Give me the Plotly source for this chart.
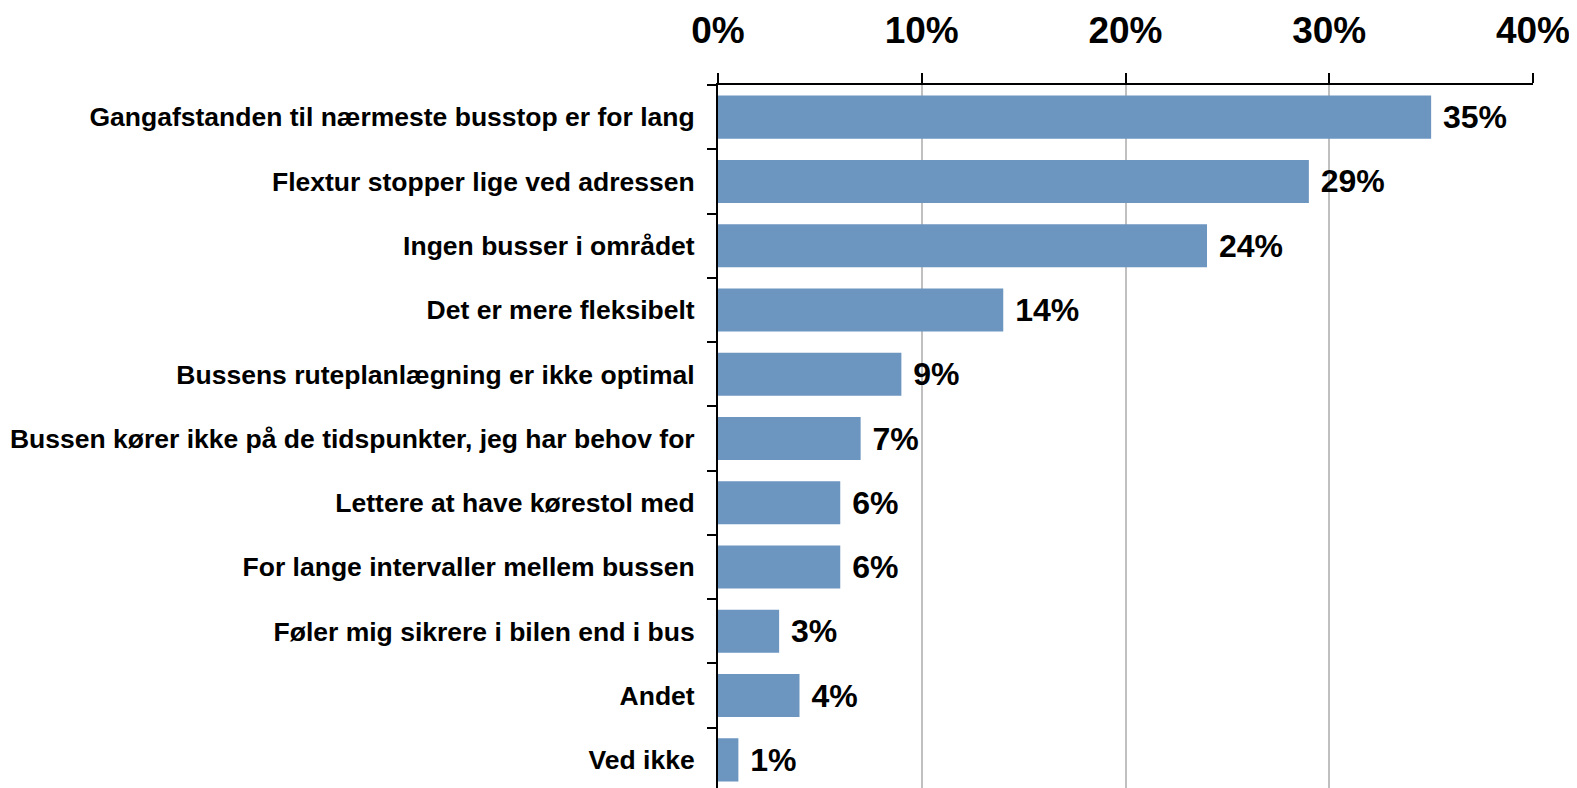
import plotly.graph_objects as go

categories = [
    "Gangafstanden til nærmeste busstop er for lang",
    "Flextur stopper lige ved adressen",
    "Ingen busser i området",
    "Det er mere fleksibelt",
    "Bussens ruteplanlægning er ikke optimal",
    "Bussen kører ikke på de tidspunkter, jeg har behov for",
    "Lettere at have kørestol med",
    "For lange intervaller mellem bussen",
    "Føler mig sikrere i bilen end i bus",
    "Andet",
    "Ved ikke",
]
values = [35, 29, 24, 14, 9, 7, 6, 6, 3, 4, 1]
tick_vals = [0, 10, 20, 30, 40]
tick_text = ["0%", "10%", "20%", "30%", "40%"]

fig = go.Figure(go.Bar(
    y=categories,
    x=values,
    orientation="h",
    marker=dict(color="#6C95C0", line=dict(width=0)),
    texttemplate=" %{x}%",
    textposition="outside",
    textfont=dict(family="Liberation Sans, Arial", size=32, color="black", weight="bold"),
    cliponaxis=False,
))

fig.update_layout(
    width=1577, height=788,
    margin=dict(l=710, r=52, t=77, b=4, autoexpand=False),
    plot_bgcolor="white", paper_bgcolor="white",
    bargap=0.33,
    showlegend=False,
    font=dict(family="Liberation Sans, Arial", color="black"),
)
fig.update_xaxes(
    side="top",
    range=[0, 40],
    automargin=False,
    tickvals=tick_vals, ticktext=tick_text,
    tickfont=dict(family="Liberation Sans, Arial", size=37, color="black", weight="bold"),
    ticks="outside", ticklen=10, tickwidth=2, tickcolor="black",
    ticklabelstandoff=15,
    showline=True, linecolor="black", linewidth=2,
    showgrid=True, gridcolor="#C0C0C0", gridwidth=2,
    zeroline=False,
)
fig.update_yaxes(
    type="category",
    range=[10.5, -0.5],
    automargin=False,
    tickson="boundaries",
    ticks="outside", ticklen=9, tickwidth=2, tickcolor="black",
    ticklabelstandoff=16,
    tickfont=dict(family="Liberation Sans, Arial", size=26.5, color="black", weight="bold"),
    showline=True, linecolor="black", linewidth=2,
    showgrid=False,
)

fig.write_html("out.html")
